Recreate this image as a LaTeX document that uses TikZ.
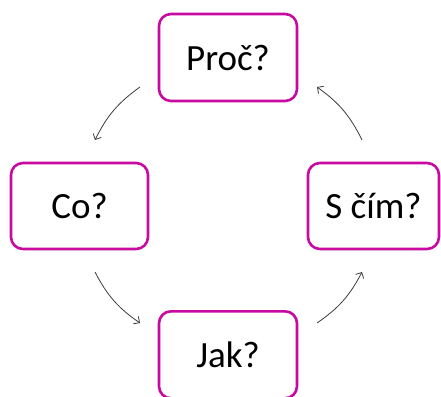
\documentclass[tikz,border=0pt]{standalone}
\usepackage{fontspec}
\setmainfont{Carlito}
\usetikzlibrary{arrows.meta}
\definecolor{mag}{RGB}{200,10,160}
\definecolor{arrowgray}{RGB}{60,60,60}
\begin{document}
\begin{tikzpicture}[x=1pt,y=1pt,
  box/.style={draw=mag, line width=2.6pt, rounded corners=12pt, fill=white,
    inner sep=0pt, font=\fontsize{37}{40}\selectfont, text=black},
  cycarrow/.style={draw=arrowgray, line width=0.8pt,
    -{Straight Barb[length=4.5pt,width=9pt]}, bend right=14}]
\clip (0,0) rectangle (441,396);
\fill[white] (0,0) rectangle (441,396);
\node[box, minimum width=138pt, minimum height=87pt] (proc) at (228,338.5) {Proč?};
\node[box, minimum width=137pt, minimum height=86pt] (co) at (79.5,190) {Co?};
\node[box, minimum width=131pt, minimum height=86pt] (scim) at (373.5,190) {S čím?};
\node[box, minimum width=138pt, minimum height=87pt] (jak) at (228,41.2) {Jak?};
\coordinate (a1s) at (140,309);
\coordinate (a1e) at (95,256);
\coordinate (a2s) at (95,124);
\coordinate (a2e) at (140,73);
\coordinate (a3s) at (317,73);
\coordinate (a3e) at (362,124);
\coordinate (a4s) at (362,256);
\coordinate (a4e) at (317,309);
\draw[cycarrow] (a1s) to (a1e);
\draw[cycarrow] (a2s) to (a2e);
\draw[cycarrow] (a3s) to (a3e);
\draw[cycarrow] (a4s) to (a4e);
\end{tikzpicture}
\end{document}
